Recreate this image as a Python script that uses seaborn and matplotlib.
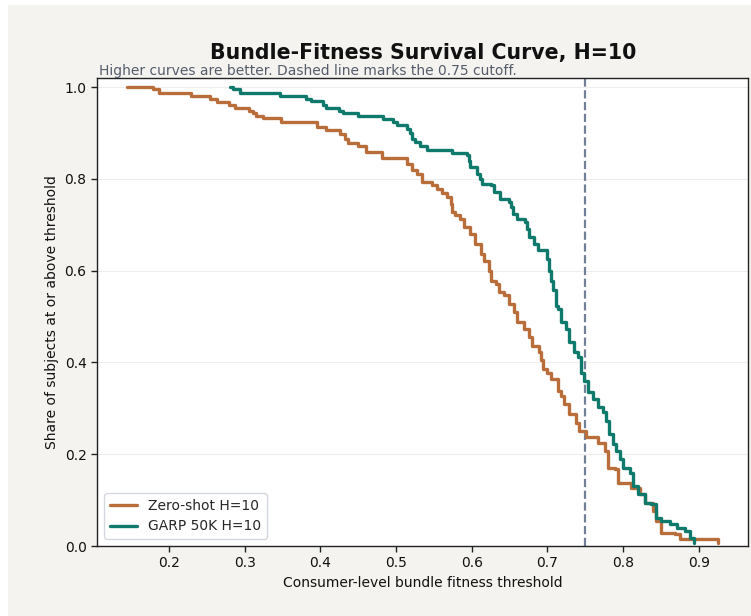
import numpy as np
import pandas as pd
import matplotlib
matplotlib.use("Agg")
import matplotlib.pyplot as plt
from matplotlib.patches import Rectangle
import seaborn as sns

# ---- data ----
series_names = ["Zero-shot H=10", "GARP 50K H=10"]
series_colors = ["#b96d3b", "#0f7a6c"]

zero_shot_threshold = [
    0.144, 0.179, 0.187, 0.2296, 0.254, 0.264, 0.2797, 0.287, 0.306, 0.3106,
    0.315, 0.324, 0.348, 0.396, 0.408, 0.4258, 0.432, 0.436, 0.450, 0.461,
    0.481, 0.515, 0.521, 0.5276, 0.534, 0.5476, 0.554, 0.561, 0.5675, 0.573,
    0.574, 0.5785, 0.585, 0.5895, 0.598, 0.605, 0.6117, 0.616, 0.6227, 0.625,
    0.6316, 0.636, 0.6426, 0.649, 0.656, 0.660, 0.669, 0.676, 0.680, 0.689,
    0.692, 0.6936, 0.700, 0.7046, 0.7135, 0.718, 0.7223, 0.729, 0.738, 0.742,
    0.751, 0.7667, 0.7755, 0.780, 0.789, 0.793, 0.811, 0.822, 0.8286, 0.8397,
    0.844, 0.8507, 0.8684, 0.875, 0.926,
]
zero_shot_share = [
    1.000, 0.9956, 0.988, 0.981, 0.9745, 0.968, 0.962, 0.955, 0.949, 0.944,
    0.937, 0.932, 0.924, 0.913, 0.906, 0.899, 0.888, 0.878, 0.871, 0.859,
    0.846, 0.833, 0.819, 0.8115, 0.793, 0.7875, 0.779, 0.769, 0.7605, 0.745,
    0.728, 0.7205, 0.713, 0.695, 0.6805, 0.659, 0.637, 0.622, 0.600, 0.5786,
    0.571, 0.553, 0.546, 0.528, 0.509, 0.4876, 0.473, 0.455, 0.4367, 0.422,
    0.405, 0.386, 0.378, 0.364, 0.3384, 0.3275, 0.309, 0.2875, 0.269, 0.251,
    0.2365, 0.2255, 0.2074, 0.171, 0.1674, 0.138, 0.127, 0.1128, 0.0946, 0.0764,
    0.0546, 0.029, 0.0255, 0.0146, 0.006,
]

garp_threshold = [
    0.2806, 0.285, 0.294, 0.347, 0.3815, 0.388, 0.4036, 0.408, 0.425, 0.430,
    0.450, 0.483, 0.4966, 0.501, 0.514, 0.5187, 0.521, 0.525, 0.532, 0.541,
    0.574, 0.594, 0.596, 0.598, 0.607, 0.611, 0.614, 0.625, 0.629, 0.638,
    0.649, 0.652, 0.654, 0.660, 0.671, 0.673, 0.676, 0.6825, 0.687, 0.699,
    0.7024, 0.705, 0.707, 0.711, 0.7135, 0.718, 0.7245, 0.729, 0.7356, 0.740,
    0.7445, 0.749, 0.7534, 0.760, 0.7667, 0.773, 0.7777, 0.782, 0.7866, 0.791,
    0.7954, 0.800, 0.8086, 0.813, 0.8198, 0.8286, 0.8375, 0.844, 0.8507, 0.862,
    0.8707, 0.8817, 0.888, 0.894,
]
garp_share = [
    1.000, 0.9956, 0.988, 0.981, 0.975, 0.969, 0.962, 0.955, 0.947, 0.944,
    0.937, 0.931, 0.924, 0.918, 0.909, 0.900, 0.887, 0.881, 0.871, 0.864,
    0.857, 0.8515, 0.840, 0.826, 0.8115, 0.800, 0.790, 0.786, 0.771, 0.757,
    0.750, 0.738, 0.724, 0.712, 0.706, 0.690, 0.673, 0.659, 0.646, 0.625,
    0.600, 0.578, 0.557, 0.524, 0.517, 0.4876, 0.473, 0.444, 0.422, 0.411,
    0.378, 0.360, 0.3347, 0.320, 0.302, 0.291, 0.273, 0.244, 0.222, 0.2074,
    0.189, 0.171, 0.160, 0.131, 0.1128, 0.0946, 0.091, 0.062, 0.0546, 0.0474,
    0.040, 0.0328, 0.018, 0.007,
]

cutoff = 0.75
y_ticks = [0.0, 0.2, 0.4, 0.6, 0.8, 1.0]
x_ticks = [0.2, 0.3, 0.4, 0.5, 0.6, 0.7, 0.8, 0.9]

df = pd.concat([
    pd.DataFrame({"threshold": zero_shot_threshold, "share": zero_shot_share,
                  "model": series_names[0]}),
    pd.DataFrame({"threshold": garp_threshold, "share": garp_share,
                  "model": series_names[1]}),
], ignore_index=True)

# ---- style ----
sns.set_theme(style="white")
plt.rcParams["font.family"] = ["DejaVu Sans"]

W, H = 751, 616
fig = plt.figure(figsize=(W / 100, H / 100), dpi=100, facecolor="white")
fig.patches.append(Rectangle((8 / W, 0), 1, (H - 5) / H, transform=fig.transFigure,
                             facecolor="#f4f3ef", edgecolor="none", zorder=-10))

ax = fig.add_axes([97 / W, 1 - 546 / H, (748 - 97) / W, (546 - 78) / H])
ax.set_facecolor("white")

sns.lineplot(data=df, x="threshold", y="share", hue="model",
             hue_order=series_names, palette=series_colors,
             drawstyle="steps-post", estimator=None, sort=False,
             linewidth=2.4, ax=ax)

ax.axvline(cutoff, color="#718096", linestyle="--", linewidth=1.6, zorder=1)

ax.set_ylim(0, 1.02)
ax.set_yticks(y_ticks)
ax.set_xticks(x_ticks)
ax.yaxis.grid(True, color="#eeeeee", linewidth=0.8)
ax.xaxis.grid(False)
ax.set_axisbelow(True)
for s in ax.spines.values():
    s.set_color("#222222")
    s.set_linewidth(1.0)
ax.tick_params(axis="both", which="major", length=4, width=1, direction="out",
               bottom=True, left=True, labelsize=10, colors="#222222",
               labelcolor="#111111")

ax.set_xlabel("Consumer-level bundle fitness threshold", fontsize=10, color="#111111")
ax.set_ylabel("Share of subjects at or above threshold", fontsize=10, color="#111111")

sns.move_legend(ax, "lower left", title=None, fontsize=10, frameon=True,
                edgecolor="#d5d8de", fancybox=True, framealpha=1.0)

fig.text(423 / W, 1 - 53 / H, "Bundle-Fitness Survival Curve, H=10",
         ha="center", va="center", fontsize=14.8, fontweight="bold", color="#111111")
fig.text(99 / W, 1 - 71 / H,
         "Higher curves are better. Dashed line marks the 0.75 cutoff.",
         ha="left", va="center", fontsize=10, color="#555d6b")

fig.savefig("out.png", dpi=100, facecolor=fig.get_facecolor())
